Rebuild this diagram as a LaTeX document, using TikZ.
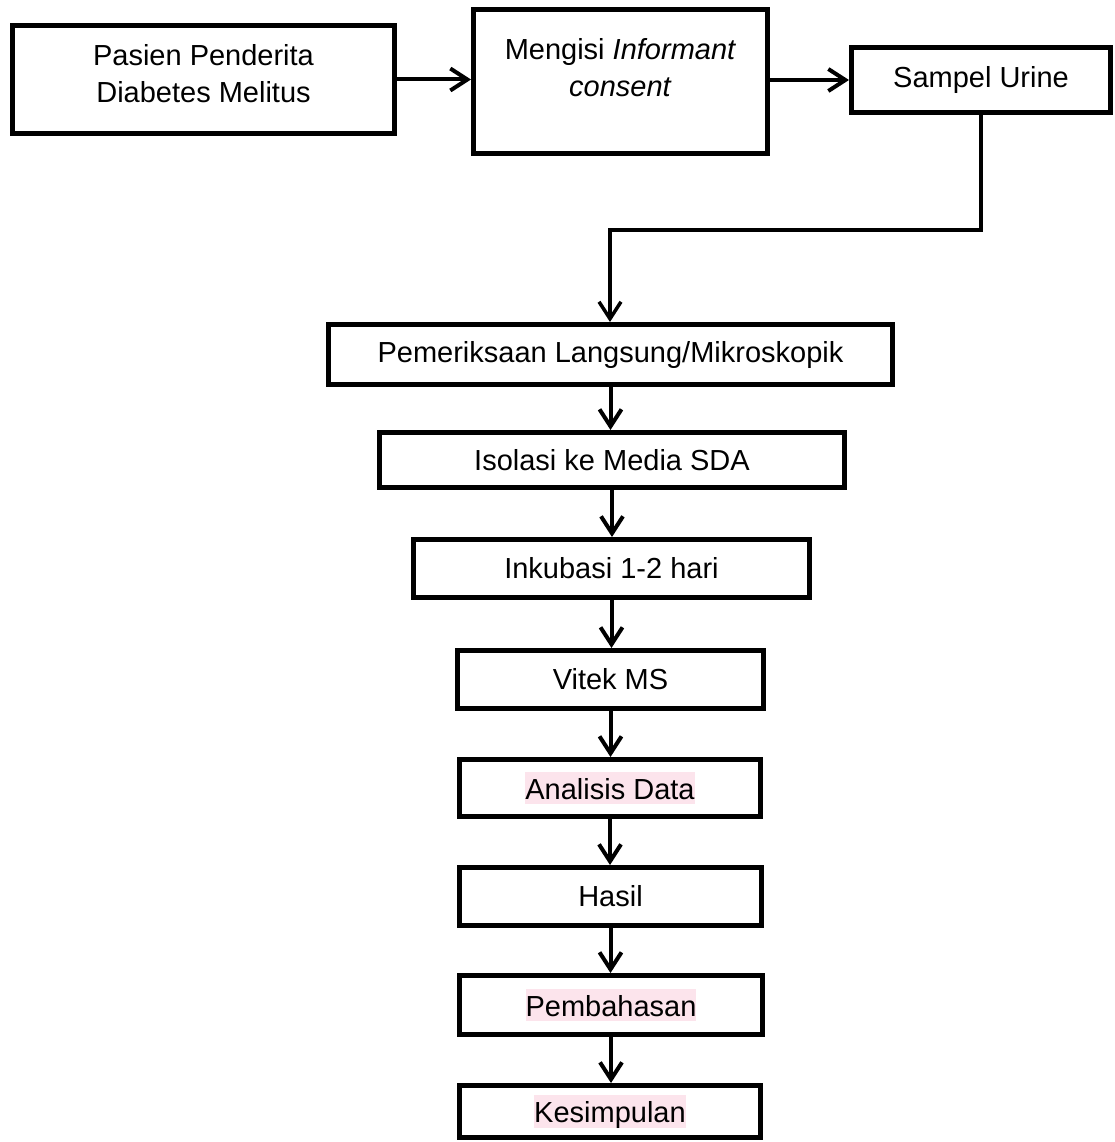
\documentclass[tikz,border=0pt]{standalone}
\usepackage{fontspec}
\setmainfont{Liberation Sans}
\usetikzlibrary{arrows.meta,calc}
\definecolor{hlpink}{RGB}{252,228,236}
\newcommand\pinkhl[1]{{\setlength\fboxsep{0pt}\colorbox{hlpink}{\rule[-0.17em]{0pt}{1.11em}#1}}}
\begin{document}
\begin{tikzpicture}[x=1pt,y=-1pt,
  box/.style={draw, line width=5pt, inner sep=0pt, align=center, font=\fontsize{29}{37}\selectfont},
  txt/.style={inner sep=0pt, align=center, font=\fontsize{29}{37}\selectfont},
  arr/.style={line width=4pt, -{Straight Barb[length=17pt,width=22pt]}},
  thinarr/.style={line width=3.5pt, -{Straight Barb[length=17pt,width=22pt]}},
]
\useasboundingbox (0,0) rectangle (1114,1142);
% top row
\node[box, minimum width=382pt, minimum height=108pt] (b1) at (203.5,79.5) {};
\node[txt] (t1) at (203.5,74) {Pasien Penderita\\Diabetes Melitus};
\node[box, minimum width=294pt, minimum height=144pt] (b2) at (620.5,81.5) {};
\node[txt] (t2) at (620.5,68) {Mengisi \textit{Informant}\\\textit{consent}};
\node[box, minimum width=259pt, minimum height=65pt] (b3) at (981,80) {Sampel Urine};
% column
\node[box, minimum width=564pt, minimum height=60pt] (b4) at (610.5,354.5) {Pemeriksaan Langsung/Mikroskopik};
\node[box, minimum width=465pt, minimum height=55pt] (b5) at (612,460) {Isolasi ke Media SDA};
\node[box, minimum width=396pt, minimum height=58pt] (b6) at (611.5,568.5) {Inkubasi 1-2 hari};
\node[box, minimum width=306pt, minimum height=58pt] (b7) at (610.5,679.5) {Vitek MS};
\node[box, minimum width=301pt, minimum height=57pt] (b8) at (610,788) {\pinkhl{Analisis Data}};
\node[box, minimum width=302pt, minimum height=58pt] (b9) at (610.5,896.5) {Hasil};
\node[box, minimum width=303pt, minimum height=59pt] (b10) at (611,1005) {\pinkhl{Pembahasan}};
\node[box, minimum width=301pt, minimum height=52pt] (b11) at (610,1111.5) {\pinkhl{Kesimpulan}};
% connectors
\draw[arr] (b1.east) -- (b1.east -| b2.west);
\draw[arr] (b3.west -| b2.east) -- (b3.west);
\coordinate (elbow) at (610,230);
\draw[thinarr] (b3.south) |- (elbow) -- (elbow |- b4.north);
\foreach \a/\b in {b4/b5,b5/b6,b6/b7,b7/b8,b8/b9,b9/b10,b10/b11}
  \draw[arr] (\a.south) -- (\a.south |- \b.north);
\end{tikzpicture}
\end{document}
